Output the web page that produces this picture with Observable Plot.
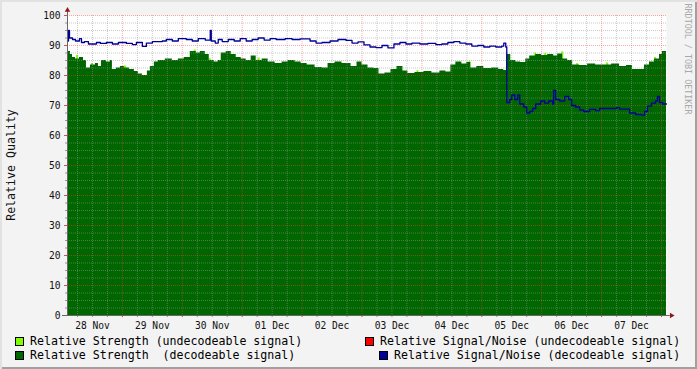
<!DOCTYPE html>
<html><head><meta charset="utf-8">
<script src="https://cdn.jsdelivr.net/npm/d3@7"></script>
<script src="https://cdn.jsdelivr.net/npm/@observablehq/plot@0.6"></script>
<style>
body{margin:0;background:#fff}
#wrap{position:relative;width:697px;height:369px;background:#f3f3f3;font-family:'DejaVu Sans Mono',monospace;overflow:hidden}
#wrap::after{content:"";position:absolute;left:0;top:0;right:0;bottom:0;box-shadow:inset 2px 2px 0 #e2e2e2, inset -2px -2px 0 #a0a0a0;pointer-events:none}
#chart{position:absolute;left:0;top:0}
.lg{position:absolute;font-size:11.6px;color:#000;white-space:pre;line-height:14px}
.sw{position:absolute;width:7px;height:7px;border:1px solid #000}
.rot{position:absolute;white-space:pre;line-height:1}
</style></head>
<body><div id="wrap"><div id="chart"></div>
<div class="rot" style="left:12px;top:165px;font-size:11.6px;color:#111;transform:translate(-50%,-50%) rotate(-90deg)">Relative Quality</div>
<div class="rot" style="left:688px;top:59px;font-size:8.4px;color:#a8a8a8;transform:translate(-50%,-50%) rotate(90deg)">RRDTOOL / TOBI OETIKER</div>
<div class="sw" style="left:15px;top:337px;background:#7fff00"></div>
<div class="lg" style="left:30px;top:334px">Relative Strength (undecodeable signal)</div>
<div class="sw" style="left:15px;top:351px;background:#006600"></div>
<div class="lg" style="left:30px;top:348px">Relative Strength  (decodeable signal)</div>
<div class="sw" style="left:365px;top:337px;background:#ff0000"></div>
<div class="lg" style="left:380px;top:334px">Relative Signal/Noise (undecodeable signal)</div>
<div class="sw" style="left:379px;top:351px;background:#000099"></div>
<div class="lg" style="left:394px;top:348px">Relative Signal/Noise (decodeable signal)</div>
</div>
<script>
// hours since 28 Nov 00:00
const strengthHours = [2,3.2,4,5.2,6.8,8.4,9.6,11.2,13.2,14.4,15.6,17.6,19.2,20,21.6,23.2,24.8,26.8,28.8,30.4,32,34,35.2,36.8,38.4,41.2,44,46.4,48.8,51.2,53.6,55.2,57.2,58.8,60.8,62.4,63.6,65.6,67.6,69.6,71.6,73.6,75.6,77.6,80,82.4,85.2,88,90.4,93.2,95.6,98,101.2,104,106.4,109.2,112,115.6,118,120,122.4,124.8,126.8,129.2,131.6,134,136.4,138.4,141.2,144.8,148,151.2,153.6,155.6,157.6,160,162,163.6,166,168.8,172,174.8,176.8,178,179.6,181.6,183.6,185.6,187.2,189.6,192,194.4,196.8,198.4,200.4,202.4,204.4,207.2,210.4,213.6,216.8,220,223.2,226,228.4,231.2,233.2,235.2,237.2,239.2,240.4,242];
const strengthValues = [88,87,86,85.5,86,85,82.5,83.5,84,83,85,84.5,85,82,82.5,83,82.5,82,81.3,80.5,80,81.5,83,84.5,85,85.5,85,85.5,86,88,87.5,88,87,85,84.5,85,87.5,88,87,86,85.5,85,86.5,85,85.5,84.5,84,84.5,85,84.5,84,83.5,82.7,82.5,84,84.5,84,83,84.5,83.5,82.5,82.3,80.5,80.8,82,83,81.5,80.7,81,81.3,80.8,81.5,81.2,83.5,84.5,83.8,84.3,82.5,83,82.3,82.5,82,81.7,87,85,84.5,84.3,85.5,86.5,87,86.7,87,86.5,87.2,85.5,85,83.5,83.3,83.8,83.5,83.5,83.8,83,83.3,82,82,83.5,84.5,85.5,87,88,88];
const undecodableHours = [5.6,11.6,24.8,52.8,58.8,78.4,142,162.8,189.2,193.2,200,206,218,237.2];
const undecodableValues = [86.7,84,83.2,88.5,85.6,85.8,81.6,84.7,87.5,87.4,87.9,84,84.2,86];
const snrHours = [2,2.4,2.8,4,5.2,6.8,7.6,8.8,10.4,13.6,15.2,17.6,20,22.4,25.6,28,29.6,32,33.6,36,40,41.6,44,46.4,49.6,52,54.4,57.2,59.2,59.6,61.2,62.4,64,66.4,68.8,71.2,73.6,76,78.4,80.8,83.2,85.6,89.2,92,95.2,99.2,101.6,104,107.2,110.4,113.6,116,118.4,120.8,123.2,125.6,128,130.4,132.8,135.2,137.6,140,143.2,146.4,149.6,152,154.4,156.8,159.2,161.6,164,166.4,168.8,171.2,173.6,176,176.8,177.6,178,179.2,180,181.2,182.4,183.2,184.8,186,187.2,188.4,189.6,191.6,193.2,194.8,196.4,196.8,197.6,199.2,201.2,202.8,204,205.6,207.2,208.8,211.2,213.6,215.2,219.2,222,223.2,225.6,227.2,229.6,232,233.2,234.4,236,237.6,238.4,239.2,240.4,242];
const snrValues = [91.5,95,92.5,92,91.5,92.3,91,91.3,90.5,91,90.7,91,90.5,91,90.7,90.3,91,89.7,90.8,91.3,91.5,92,91.5,92.3,92,91.5,92.3,91.8,95,91.5,90.8,92,91.3,92,91.5,92.3,91.5,92,92.5,91.8,92.3,92,92.3,92,92.2,91.5,90.8,91,91.5,92,91.7,90.8,91.2,90.2,89.5,89.3,90,89.2,90.5,91,90.5,90.8,90.5,90.7,90.3,90.5,91,91.3,90.8,90.5,89.8,90,89.5,89.8,89.5,89.8,90.8,89.5,71,72,73.5,72,73.5,70.5,69.5,67.5,68,69,70.5,71.5,70.8,71.5,70.5,75,72,71.5,73,72,70,69.5,68.5,68,68.7,68.3,69,69,69.3,68.8,68.8,67.5,67,66.8,68,69.8,70.8,71.5,73,71,70.5,70.5];
const dayLabels = ["28 Nov","29 Nov","30 Nov","01 Dec","02 Dec","03 Dec","04 Dec","05 Dec","06 Dec","07 Dec"];
const yTicks = [0,10,20,30,40,50,60,70,80,90,100];

const strength = strengthHours.map((h,i)=>({h, v: strengthValues[i]}));
const snr = snrHours.map((h,i)=>({h, v: snrValues[i]}));
const undec = undecodableHours.map((h,i)=>({h, v: undecodableValues[i]}));
const labels = dayLabels.map((t,i)=>({h: 12+24*i, t}));
const dayLines = d3.range(24, 241, 24);
const minorX = d3.range(6, 242, 6).filter(h => h % 24 !== 0);
const minorY = d3.range(2.5, 100.1, 2.5).filter(v => v % 10 !== 0);
const majorY = d3.range(10, 100.1, 10);

const minorStroke = "rgba(150,150,150,0.5)";
const majorStroke = "rgba(255,60,60,0.45)";

const plot = Plot.plot({
  width: 697, height: 330,
  marginLeft: 67, marginRight: 31, marginTop: 15, marginBottom: 15,
  x: {domain: [2, 242], axis: null},
  y: {domain: [0, 100], axis: null},
  style: {background: "transparent", fontFamily: "DejaVu Sans Mono", fontSize: "9.6px", overflow: "visible"},
  marks: [
    Plot.frame({fill: "white", stroke: "none"}),
    Plot.rect(undec, {x1: "h", x2: d => d.h + 0.8, y1: 0, y2: "v", fill: "#7fff00"}),
    Plot.areaY(strength, {x: "h", y: "v", curve: "step-after", fill: "#006600"}),
    Plot.ruleX(minorX, {stroke: minorStroke, strokeDasharray: "1,1"}),
    Plot.ruleY(minorY, {stroke: minorStroke, strokeDasharray: "1,1"}),
    Plot.ruleX(dayLines, {stroke: majorStroke, strokeDasharray: "1,1"}),
    Plot.ruleY(majorY, {stroke: majorStroke, strokeDasharray: "1,1"}),
    Plot.line(snr, {x: "h", y: "v", curve: "step-after", stroke: "#000099", strokeWidth: 1.3}),
    // ticks
    Plot.ruleY(minorY, {x1: 1.2, x2: 2, stroke: "#999"}),
    Plot.ruleY(majorY, {x1: 0.8, x2: 2, stroke: "#d05050"}),
    Plot.ruleX(minorX, {y1: -0.7, y2: 0, stroke: "#999"}),
    Plot.ruleX(dayLines, {y1: -0.7, y2: 0, stroke: "#d05050"}),
    // axes
    Plot.ruleX([2], {y1: 0, y2: 101.5, stroke: "#666"}),
    Plot.ruleY([0], {x1: 0, x2: 243.5, stroke: "#666"}),
    Plot.dot([{h: 2, v: 101.8}], {x: "h", y: "v", symbol: "triangle2", r: 2.6, fill: "#8b1a1a"}),
    Plot.dot([{h: 244, v: 0}], {x: "h", y: "v", symbol: "triangle2", r: 2.6, rotate: 90, fill: "#8b1a1a"}),
    Plot.text(yTicks, {x: 2, y: d => d, text: d => String(d), textAnchor: "end", dx: -7, fill: "#111"}),
    Plot.text(labels, {x: "h", y: 0, text: "t", dy: 10, fill: "#111"})
  ]
});
document.getElementById("chart").appendChild(plot);
</script>
</body></html>
